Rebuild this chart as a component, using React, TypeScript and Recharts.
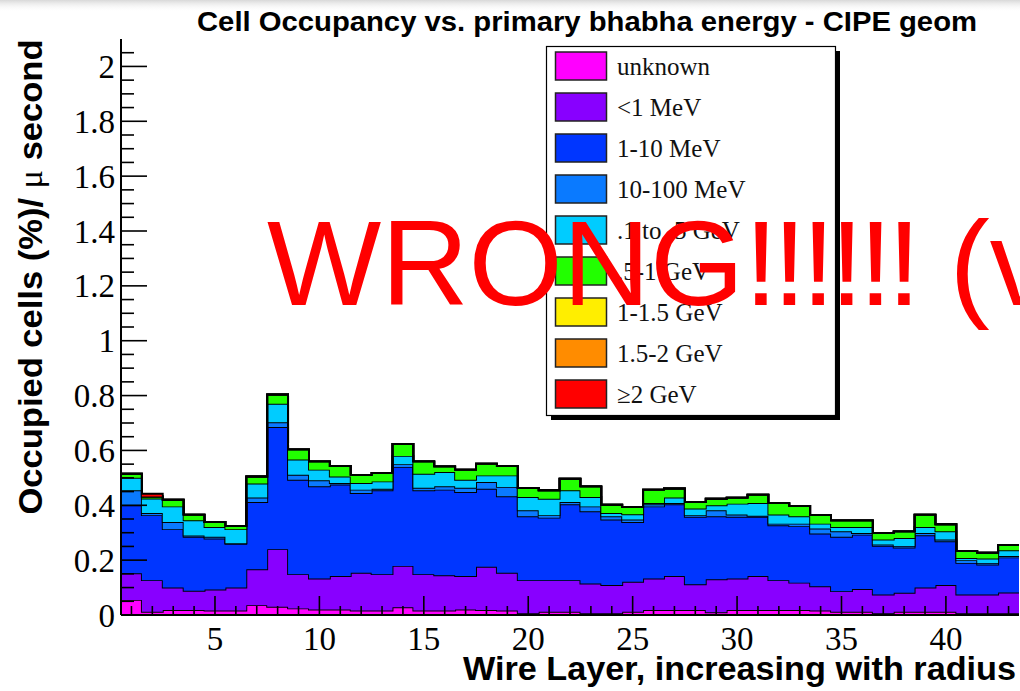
import { Area, ComposedChart, XAxis, YAxis } from "recharts"

// wire layers 1..43, one histogram bin per layer
const layers = [
  1, 2, 3, 4, 5, 6, 7, 8, 9, 10, 11, 12, 13, 14, 15, 16, 17, 18, 19, 20, 21, 22, 23, 24, 25, 26, 27, 28, 29, 30,
  31, 32, 33, 34, 35, 36, 37, 38, 39, 40, 41, 42, 43,
]

// occupancy per layer (% / us) for each primary energy bin
const unknown = [
  0.055, 0.012, 0.018, 0.018, 0.016, 0.016, 0.036, 0.03, 0.024, 0.02, 0.02, 0.016, 0.016, 0.028, 0.016, 0.016, 0.02,
  0.018, 0.016, 0.006, 0.012, 0.012, 0.006, 0.006, 0.012, 0.018, 0.018, 0.018, 0.01, 0.018, 0.018, 0.018, 0.018, 0.016,
  0.012, 0.012, 0.006, 0.012, 0.012, 0.012, 0.006, 0.006, 0.006,
]
const belowOneMeV = [
  0.097, 0.115, 0.082, 0.07, 0.077, 0.084, 0.131, 0.21, 0.125, 0.113, 0.122, 0.138, 0.133, 0.151, 0.133, 0.129, 0.122,
  0.158, 0.138, 0.121, 0.115, 0.115, 0.109, 0.103, 0.109, 0.115, 0.124, 0.094, 0.12, 0.115, 0.124, 0.109, 0.1, 0.089,
  0.075, 0.083, 0.069, 0.069, 0.088, 0.097, 0.069, 0.069, 0.076,
]
const oneToTenMeV = [
  0.248, 0.237, 0.213, 0.197, 0.186, 0.16, 0.245, 0.445, 0.344, 0.336, 0.334, 0.291, 0.306, 0.361, 0.306, 0.312, 0.306,
  0.284, 0.279, 0.233, 0.228, 0.277, 0.263, 0.239, 0.218, 0.263, 0.262, 0.246, 0.23, 0.225, 0.216, 0.2, 0.206, 0.192,
  0.198, 0.198, 0.177, 0.165, 0.191, 0.16, 0.115, 0.109, 0.128,
]
const tenToHundredMeV = [
  0.055, 0.008, 0.026, 0.005, 0.006, 0.002, 0.016, 0.018, 0.018, 0.022, 0.005, 0.012, 0.005, 0.01, 0.009, 0.012, 0.016,
  0.025, 0.034, 0.022, 0.009, 0.008, 0.018, 0.012, 0.009, 0.008, 0.004, 0.006, 0.022, 0.008, 0.004, 0.006, 0.009, 0.018,
  0.02, 0.006, 0.005, 0.006, 0.008, 0.006, 0.01, 0.006, 0.005,
]
const tenthToHalfGeV = [
  0.045, 0.053, 0.057, 0.055, 0.036, 0.051, 0.051, 0.067, 0.056, 0.039, 0.024, 0.024, 0.027, 0.03, 0.051, 0.052, 0.029,
  0.024, 0.042, 0.048, 0.06, 0.043, 0.034, 0.012, 0.019, 0.004, 0.02, 0.024, 0.018, 0.04, 0.046, 0.033, 0.027, 0.018,
  0.016, 0.022, 0.018, 0.029, 0.022, 0.03, 0.008, 0.016, 0.021,
]
const halfToOneGeV = [
  0.015, 0.007, 0.024, 0.021, 0.018, 0.012, 0.026, 0.034, 0.037, 0.03, 0.038, 0.03, 0.031, 0.044, 0.045, 0.021, 0.037,
  0.043, 0.034, 0.033, 0.031, 0.042, 0.039, 0.03, 0.027, 0.049, 0.033, 0.024, 0.024, 0.022, 0.031, 0.042, 0.038, 0.031,
  0.024, 0.024, 0.024, 0.024, 0.045, 0.026, 0.025, 0.021, 0.019,
]
const oneToOneHalfGeV = [
  0, 0, 0, 0, 0, 0, 0, 0, 0, 0, 0, 0, 0, 0, 0, 0, 0, 0, 0, 0, 0, 0, 0, 0, 0, 0, 0, 0, 0, 0, 0, 0, 0, 0, 0, 0, 0, 0, 0,
  0, 0, 0, 0,
]
const oneHalfToTwoGeV = [
  0, 0, 0, 0, 0, 0, 0, 0, 0, 0, 0, 0, 0, 0, 0, 0, 0, 0, 0, 0, 0, 0, 0, 0, 0, 0, 0, 0, 0, 0, 0, 0, 0, 0, 0, 0, 0, 0, 0,
  0, 0, 0, 0,
]
const aboveTwoGeV = [
  0, 0.01, 0, 0, 0, 0, 0, 0, 0, 0, 0, 0, 0, 0, 0, 0, 0, 0, 0, 0, 0, 0, 0, 0, 0, 0, 0, 0, 0, 0, 0, 0, 0, 0, 0, 0, 0, 0, 0,
  0, 0, 0, 0,
]

const series = [
  { key: "unknown", label: "unknown", color: "#ff00ff", values: unknown },
  { key: "lt1MeV", label: "<1 MeV", color: "#8800ff", values: belowOneMeV },
  { key: "mev1to10", label: "1-10 MeV", color: "#0036ff", values: oneToTenMeV },
  { key: "mev10to100", label: "10-100 MeV", color: "#0a7aff", values: tenToHundredMeV },
  { key: "gev01to05", label: ".1 to .5 GeV", color: "#00ccff", values: tenthToHalfGeV },
  { key: "gev05to1", label: ".5-1 GeV", color: "#22ff00", values: halfToOneGeV },
  { key: "gev1to15", label: "1-1.5 GeV", color: "#ffee00", values: oneToOneHalfGeV },
  { key: "gev15to2", label: "1.5-2 GeV", color: "#ff8c00", values: oneHalfToTwoGeV },
  { key: "gev2up", label: "\u22652 GeV", color: "#ff0000", values: aboveTwoGeV },
]

// step histogram: one point per lower bin edge, plus the closing upper edge
const rowAt = (edge: number, i: number) => {
  const row: Record<string, number> = { edge }
  series.forEach((s) => (row[s.key] = s.values[i]))
  return row
}
const data = layers.map((layer, i) => rowAt(layer - 0.5, i))
data.push(rowAt(layers[layers.length - 1] + 0.5, layers.length - 1))

const xDomain = [layers[0] - 0.5, layers[layers.length - 1] + 0.5]
const yTicks = Array.from({ length: 42 }, (_, i) => i / 20)
const isMajorY = (v: number) => Math.abs(v * 5 - Math.round(v * 5)) < 1e-6

const SERIF = "'Liberation Serif', 'Times New Roman', serif"
const SANS = "'Liberation Sans', Arial, Helvetica, sans-serif"

const LeftTick = ({ x, y, payload }: any) => {
  const major = isMajorY(payload.value)
  return (
    <g>
      <line x1={x} x2={x + (major ? 26 : 13)} y1={y} y2={y} stroke="#000" strokeWidth={1.6} />
      {major && (
        <text x={x - 6} y={y} dy="0.35em" textAnchor="end" fontFamily={SERIF} fontSize={33} fill="#000">
          {Number(payload.value.toFixed(1))}
        </text>
      )}
    </g>
  )
}

const RightTick = ({ x, y, payload }: any) => {
  const major = isMajorY(payload.value)
  return <line x1={x} x2={x - (major ? 27 : 13)} y1={y} y2={y} stroke="#000" strokeWidth={1.6} />
}

const BottomTick = ({ x, y, payload }: any) => {
  const major = payload.value % 5 === 0
  return (
    <g>
      <line x1={x} x2={x} y1={y} y2={y - (major ? 19 : 9)} stroke="#000" strokeWidth={1.6} />
      {major && (
        <text x={x} y={y + 35} textAnchor="middle" fontFamily={SERIF} fontSize={33} fill="#000">
          {payload.value}
        </text>
      )}
    </g>
  )
}

const TopTick = ({ x, y, payload }: any) => {
  const major = payload.value % 5 === 0
  return <line x1={x} x2={x} y1={y} y2={y + (major ? 19 : 10)} stroke="#000" strokeWidth={1.6} />
}

const axisLine = { stroke: "#000", strokeWidth: 2 }

export default function App() {
  return (
    <div style={{ position: "absolute", left: 0, top: 0, width: 1020, height: 691, background: "#fff", overflow: "hidden" }}>
      <ComposedChart width={1020} height={691} data={data} margin={{ top: 39, right: 1, bottom: 0, left: 0 }}>
        {series.map((s) => (
          <Area
            key={s.key}
            xAxisId="b"
            yAxisId="l"
            type="stepAfter"
            dataKey={s.key}
            stackId="stack"
            fill={s.color}
            fillOpacity={1}
            stroke="#000"
            strokeWidth={1.9}
            dot={false}
            activeDot={false}
            isAnimationActive={false}
          />
        ))}
        <XAxis
          xAxisId="b"
          dataKey="edge"
          type="number"
          domain={xDomain}
          allowDataOverflow
          ticks={layers}
          interval={0}
          height={76}
          tickSize={0}
          tickMargin={0}
          tickLine={false}
          axisLine={axisLine}
          tick={<BottomTick />}
        />
        <XAxis
          xAxisId="t"
          orientation="top"
          dataKey="edge"
          type="number"
          domain={xDomain}
          allowDataOverflow
          ticks={layers}
          interval={0}
          height={0}
          tickSize={0}
          tickMargin={0}
          tickLine={false}
          axisLine={axisLine}
          tick={<TopTick />}
        />
        <YAxis
          yAxisId="l"
          type="number"
          domain={[0, 2.1]}
          allowDataOverflow
          ticks={yTicks}
          interval={0}
          width={121}
          tickSize={0}
          tickMargin={0}
          tickLine={false}
          axisLine={axisLine}
          tick={<LeftTick />}
        />
        <YAxis
          yAxisId="r"
          orientation="right"
          type="number"
          domain={[0, 2.1]}
          allowDataOverflow
          ticks={yTicks}
          interval={0}
          width={0}
          tickSize={0}
          tickMargin={0}
          tickLine={false}
          axisLine={axisLine}
          tick={<RightTick />}
        />
      </ComposedChart>

      <svg width={1020} height={691} style={{ position: "absolute", left: 0, top: 0, pointerEvents: "none" }}>
        <defs>
          <linearGradient id="topHaze" x1="0" y1="0" x2="0" y2="1">
            <stop offset="0" stopColor="#c8c8c8" stopOpacity={0.7} />
            <stop offset="1" stopColor="#ffffff" stopOpacity={0} />
          </linearGradient>
        </defs>
        <rect x={0} y={0} width={1020} height={12} fill="url(#topHaze)" />

        <text x={197} y={31} fontFamily={SANS} fontWeight="bold" fontSize={28.5} textLength={780} lengthAdjust="spacingAndGlyphs">
          Cell Occupancy vs. primary bhabha energy - CIPE geom
        </text>
        <text x={1016} y={680} textAnchor="end" fontFamily={SANS} fontWeight="bold" fontSize={33} textLength={553} lengthAdjust="spacingAndGlyphs">
          Wire Layer, increasing with radius
        </text>
        <text
          x={42}
          y={277}
          transform="rotate(-90 42 277)"
          textAnchor="middle"
          fontFamily={SANS}
          fontWeight="bold"
          fontSize={34}
          textLength={475}
          lengthAdjust="spacingAndGlyphs"
        >
          Occupied cells (%)/ <tspan fontFamily={SERIF} fontWeight="normal">{"\u03bc"}</tspan> second
        </text>

        {/* legend box with drop shadow */}
        <rect x={551} y={51} width={289} height={369} fill="#000" />
        <rect x={546.5} y={46.5} width={289} height={369} fill="#fff" stroke="#000" strokeWidth={1.2} />
        {series.map((s, i) => (
          <g key={s.key}>
            <rect x={555.5} y={52 + i * 41} width={51} height={28} fill={s.color} stroke="#222" strokeWidth={1.5} />
            <text x={617} y={66 + i * 41} dy="0.35em" fontFamily={SERIF} fontSize={25} fill="#111">
              {s.label}
            </text>
          </g>
        ))}

        <text x={267} y={305} fontFamily={SANS} fontSize={121} fill="#ff0000">
          WRONG<tspan letterSpacing={-5}>!!!!!!</tspan> (v
        </text>
      </svg>
    </div>
  )
}
